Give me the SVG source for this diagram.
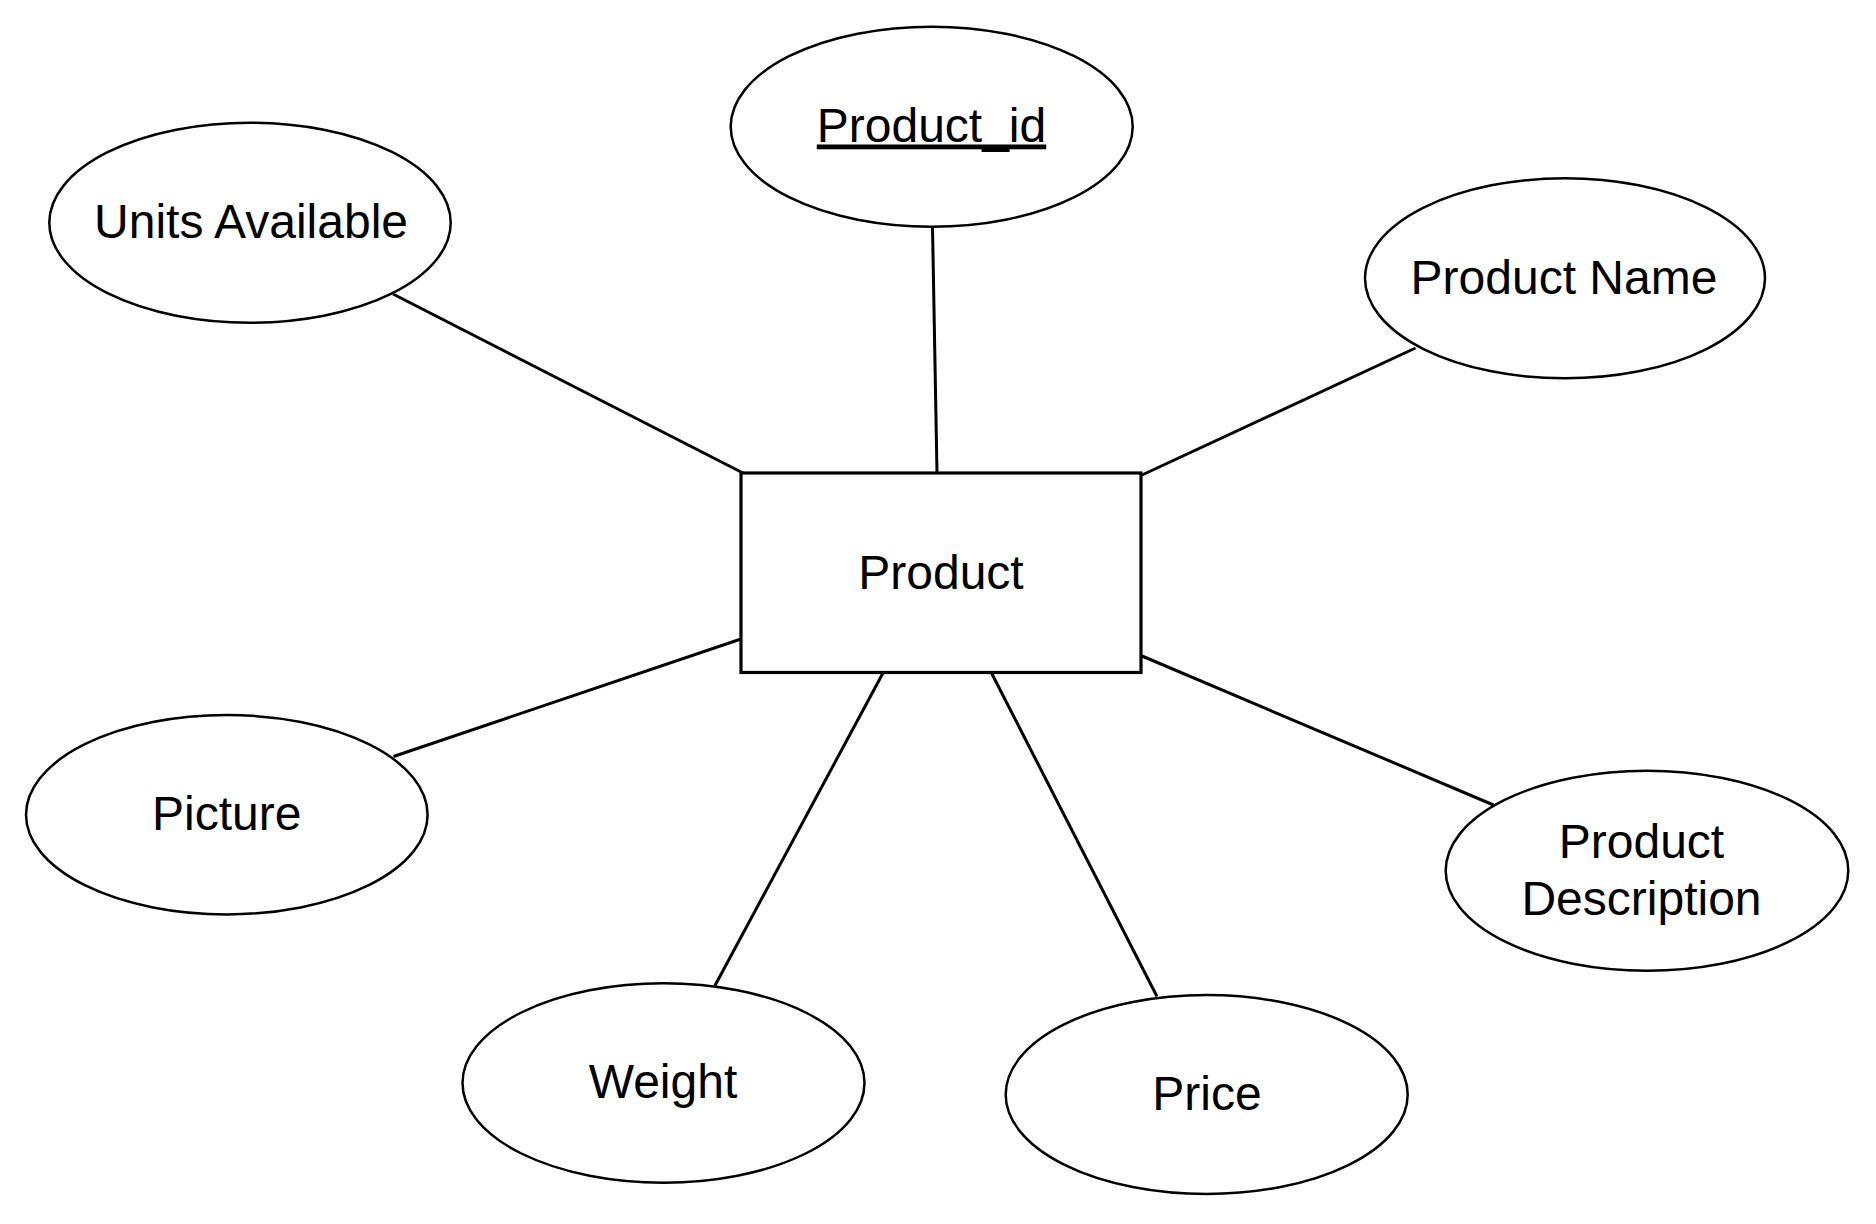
<svg xmlns="http://www.w3.org/2000/svg" width="1876" height="1224" viewBox="0 0 1876 1224">
<style>
.attr{fill:#fff;stroke:#000;stroke-width:2.5}
.ent{fill:#fff;stroke:#000;stroke-width:3.2}
.lbl{font-family:"Liberation Sans",Arial,sans-serif;font-size:48px;fill:#000;text-anchor:middle}
.edge{stroke:#000;stroke-width:3;fill:none}
</style>
<rect width="1876" height="1224" fill="#fff"/>
<g id="connectors">
<line class="edge" x1="393" y1="294" x2="743" y2="473"/>
<line class="edge" x1="932.5" y1="227" x2="937" y2="473"/>
<line class="edge" x1="1415.5" y1="348" x2="1142" y2="475"/>
<line class="edge" x1="393.5" y1="756.5" x2="741" y2="639"/>
<line class="edge" x1="883" y1="673" x2="715" y2="985.5"/>
<line class="edge" x1="991.5" y1="673" x2="1157" y2="996.5"/>
<line class="edge" x1="1142" y1="656" x2="1493.5" y2="805"/>
</g>
<g id="product">
<rect class="ent" x="741" y="473" width="400" height="199.5"/>
<text class="lbl" x="941" y="589">Product</text>
</g>
<g id="product_id">
<ellipse class="attr" cx="931.7" cy="126.7" rx="201" ry="100"/>
<text class="lbl" x="931.5" y="141.5" text-decoration="underline">Product_id</text>
</g>
<g id="units_available">
<ellipse class="attr" cx="250" cy="222.7" rx="200.7" ry="100"/>
<text class="lbl" x="251" y="238.3">Units Available</text>
</g>
<g id="product_name">
<ellipse class="attr" cx="1565" cy="278.3" rx="200" ry="100"/>
<text class="lbl" x="1564" y="294">Product Name</text>
</g>
<g id="picture">
<ellipse class="attr" cx="226.8" cy="814.7" rx="200.8" ry="99.7"/>
<text class="lbl" x="226.8" y="829.5">Picture</text>
</g>
<g id="product_description">
<ellipse class="attr" cx="1647" cy="870.7" rx="201.3" ry="100"/>
<text class="lbl" x="1641.5" y="858.3">Product</text>
<text class="lbl" x="1641.5" y="915">Description</text>
</g>
<g id="weight">
<ellipse class="attr" cx="663.5" cy="1083" rx="201" ry="99.7"/>
<text class="lbl" x="663" y="1098.3">Weight</text>
</g>
<g id="price">
<ellipse class="attr" cx="1206.7" cy="1094.5" rx="201" ry="99.5"/>
<text class="lbl" x="1207" y="1110">Price</text>
</g>
</svg>
